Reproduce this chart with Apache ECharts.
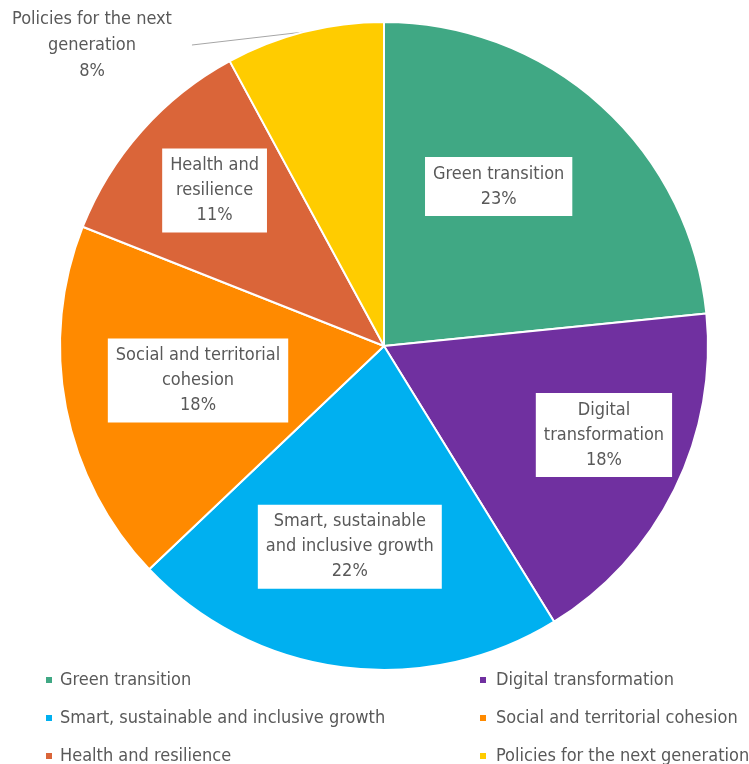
<!DOCTYPE html>
<html>
<head>
<meta charset="utf-8">
<script src="https://cdn.jsdelivr.net/npm/echarts@6/dist/echarts.min.js"></script>
<style>
  html, body { margin: 0; padding: 0; background: #fff; }
  #main { width: 749px; height: 764px; }
</style>
</head>
<body>
<div id="main"></div>
<script>
// slices, clockwise from 12 o'clock
const categories = [
  'Green transition',
  'Digital transformation',
  'Smart, sustainable and inclusive growth',
  'Social and territorial cohesion',
  'Health and resilience',
  'Policies for the next generation'
]
// how the names wrap inside the data labels
const labelLines = [
  'Green transition',
  'Digital\ntransformation',
  'Smart, sustainable\nand inclusive growth',
  'Social and territorial\ncohesion',
  'Health and\nresilience',
  'Policies for the next\ngeneration'
]
const shares = [23.4, 17.8, 21.7, 18.1, 11.1, 7.9]
const colors = ['#40A884', '#7030A0', '#00B0F0', '#FF8A00', '#DA6539', '#FFCC00']

// nudge of each inside label away from the default mid-radius spot
const labelShift = [[4, -37], [72, 16], [-13, 37], [-24, 3], [-46, -46]]

const FONT = '"DejaVu Sans Condensed", "DejaVu Sans", sans-serif'
const TEXT = '#595959'

const chart = echarts.init(document.getElementById('main'), null, { renderer: 'canvas' })

const pieData = categories.map((name, i) => ({
  name: name,
  value: shares[i],
  itemStyle: { color: colors[i] },
  label: i === 5 ? {
    position: 'outside',
    backgroundColor: 'transparent',
    padding: 0,
    lineHeight: 26
  } : {}
}))

const legendBase = {
  orient: 'vertical',
  top: 670,
  height: 120,
  padding: 0,
  itemWidth: 8,
  itemHeight: 8,
  itemGap: 18,
  icon: 'rect'
}

chart.setOption({
  animation: false,
  legend: [
    Object.assign({}, legendBase, {
      left: 44,
      textStyle: { fontFamily: FONT, fontSize: 18, lineHeight: 20, color: TEXT, padding: [0, 0, 0, 2] },
      data: [categories[0], categories[2], categories[4]]
    }),
    Object.assign({}, legendBase, {
      left: 478,
      textStyle: { fontFamily: FONT, fontSize: 18, lineHeight: 20, color: TEXT, padding: [0, 0, 0, 4] },
      data: [categories[1], categories[3], categories[5]]
    })
  ],
  series: [{
    type: 'pie',
    center: [384, 346],
    radius: 324,
    startAngle: 90,
    clockwise: true,
    percentPrecision: 0,
    avoidLabelOverlap: false,
    silent: true,
    itemStyle: { borderColor: '#fff', borderWidth: 2 },
    label: {
      show: true,
      position: 'inside',
      formatter: p => labelLines[p.dataIndex] + '\n' + p.percent + '%',
      fontFamily: FONT,
      fontSize: 18,
      lineHeight: 25,
      color: TEXT,
      align: 'center',
      backgroundColor: '#fff',
      padding: [5, 8, 4, 8]
    },
    labelLine: {
      show: true,
      length: 5,
      length2: 10,
      lineStyle: { color: '#A6A6A6', width: 1 }
    },
    labelLayout: function (p) {
      const i = p.dataIndex
      if (i < labelShift.length) {
        return { dx: labelShift[i][0], dy: labelShift[i][1] }
      }
      // outside label of the small slice: sits top-left, straight leader line
      const x = 92, y = 45
      const start = p.labelLinePoints ? p.labelLinePoints[0] : [305, 32]
      return {
        x: x,
        y: y,
        align: 'center',
        verticalAlign: 'middle',
        labelLinePoints: [start, [x + p.labelRect.width / 2 + 20, y]]
      }
    },
    data: pieData
  }]
})

window.addEventListener('resize', () => chart && chart.resize())
</script>
</body>
</html>
